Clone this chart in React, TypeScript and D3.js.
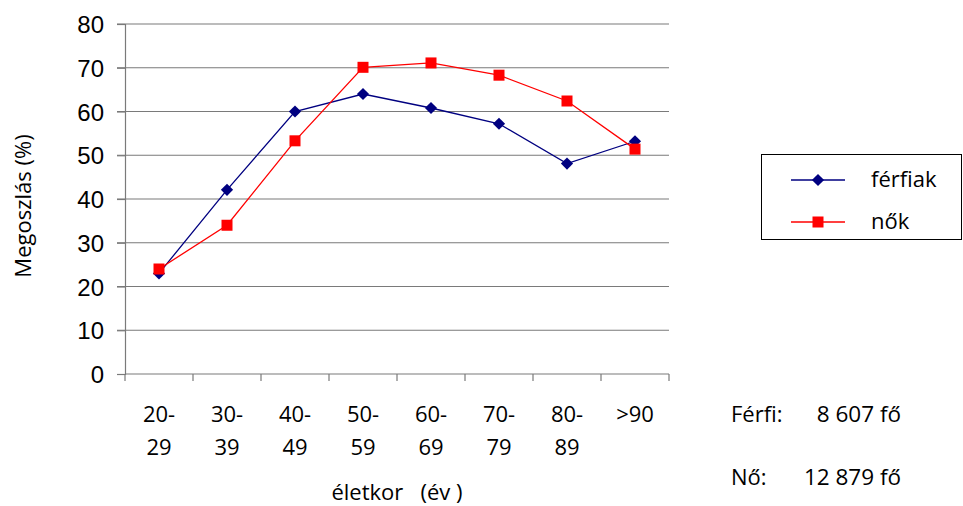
import React, { useEffect, useRef } from 'react';
import * as d3 from 'd3';

const ageGroups = ['20-29', '30-39', '40-49', '50-59', '60-69', '70-79', '80-89', '>90'];
const ferfiak = [23, 42.1, 60, 64, 60.8, 57.2, 48.1, 53.2];
const nok = [24, 34, 53.3, 70.1, 71.1, 68.3, 62.4, 51.4];
const yTicks = [0, 10, 20, 30, 40, 50, 60, 70, 80];
const seriesNames = ['férfiak', 'nők'];
const seriesColors = ['#000080', '#ff0000'];
const notes = [
  { label: 'Férfi:', value: '8 607 fő' },
  { label: 'Nő:', value: '12 879 fő' },
];

const App = () => {
  const ref = useRef<SVGSVGElement>(null);

  useEffect(() => {
    if (!ref.current) return;
    const width = 963;
    const height = 506;
    const marginLeft = 125;
    const marginTop = 24;
    const plotRight = 669;
    const plotBottom = 374;
    const font = "'Liberation Sans', Arial, sans-serif";
    const noteFont = "'Open Sans', 'Noto Sans', sans-serif";

    const svg = d3.select(ref.current);
    svg.selectAll('*').remove();
    svg.attr('width', width).attr('height', height).attr('viewBox', [0, 0, width, height]);

    const x = d3.scaleBand().domain(ageGroups).range([marginLeft, plotRight]);
    const y = d3.scaleLinear().domain([0, 80]).range([plotBottom, marginTop]);

    // gridlines
    svg.append('g')
      .selectAll('line')
      .data(yTicks.filter(t => t > 0))
      .join('line')
      .attr('x1', marginLeft - 8)
      .attr('x2', plotRight)
      .attr('y1', d => y(d))
      .attr('y2', d => y(d))
      .attr('stroke', '#7a7a7a')
      .attr('stroke-width', 1.2);

    // y axis
    const yAxis = svg.append('g')
      .attr('transform', `translate(${marginLeft},0)`)
      .call(d3.axisLeft(y).tickValues(yTicks).tickSize(8).tickPadding(13));
    yAxis.selectAll('.domain, .tick line').attr('stroke', '#7a7a7a').attr('stroke-width', 1.2);
    yAxis.selectAll('.tick text')
      .attr('font-family', font)
      .attr('font-size', 24)
      .attr('dy', '0.36em')
      .attr('fill', '#000');

    // x axis
    const xTickPos = ageGroups.map(g => x(g)!).concat([plotRight]);
    svg.append('line')
      .attr('x1', marginLeft).attr('x2', plotRight)
      .attr('y1', plotBottom).attr('y2', plotBottom)
      .attr('stroke', '#7a7a7a').attr('stroke-width', 1.2);
    svg.append('g')
      .selectAll('line')
      .data(xTickPos)
      .join('line')
      .attr('x1', d => d).attr('x2', d => d)
      .attr('y1', plotBottom).attr('y2', plotBottom + 7)
      .attr('stroke', '#7a7a7a').attr('stroke-width', 1.2);

    const xLabels = svg.append('g')
      .selectAll('text')
      .data(ageGroups)
      .join('text')
      .attr('x', d => x(d)! + x.bandwidth() / 2)
      .attr('y', 422)
      .attr('text-anchor', 'middle')
      .attr('font-family', noteFont)
      .attr('font-size', 22)
      .attr('fill', '#000');
    xLabels.each(function (d) {
      const t = d3.select(this);
      const parts = d.includes('-') ? [d.split('-')[0] + '-', d.split('-')[1]] : [d];
      parts.forEach((p, i) => {
        t.append('tspan')
          .attr('x', x(d)! + x.bandwidth() / 2)
          .attr('dy', i === 0 ? 0 : 33)
          .text(p);
      });
    });

    // axis titles
    svg.append('text')
      .attr('x', 397).attr('y', 500)
      .attr('text-anchor', 'middle')
      .attr('font-family', noteFont)
      .attr('font-size', 22)
      .attr('xml:space', 'preserve')
      .text('életkor   (év )');
    svg.append('text')
      .attr('transform', `translate(31,206) rotate(-90)`)
      .attr('text-anchor', 'middle')
      .attr('font-family', noteFont)
      .attr('font-size', 22)
      .text('Megoszlás (%)');

    // series
    const seriesData = [ferfiak, nok];
    const cx = (i: number) => x(ageGroups[i])! + x.bandwidth() / 2;
    const line = d3.line<number>().x((_, i) => cx(i)).y(d => y(d));
    const diamond = d3.symbol().type(d3.symbolDiamond2).size(95);

    seriesData.forEach((vals, s) => {
      svg.append('path')
        .attr('d', line(vals))
        .attr('fill', 'none')
        .attr('stroke', seriesColors[s])
        .attr('stroke-width', 1.3);
    });
    seriesData.forEach((vals, s) => {
      const g = svg.append('g');
      if (s === 0) {
        g.selectAll('path')
          .data(vals)
          .join('path')
          .attr('transform', (d, i) => `translate(${cx(i)},${y(d)})`)
          .attr('d', diamond())
          .attr('fill', seriesColors[s]);
      } else {
        g.selectAll('rect')
          .data(vals)
          .join('rect')
          .attr('x', (_, i) => cx(i) - 5.5)
          .attr('y', d => y(d) - 5.5)
          .attr('width', 11)
          .attr('height', 11)
          .attr('fill', seriesColors[s]);
      }
    });

    // legend
    const legend = svg.append('g');
    legend.append('rect')
      .attr('x', 761.5).attr('y', 154.5)
      .attr('width', 200).attr('height', 85)
      .attr('fill', '#fff')
      .attr('stroke', '#000')
      .attr('stroke-width', 1);
    seriesNames.forEach((name, s) => {
      const ly = 180 + s * 42;
      legend.append('line')
        .attr('x1', 791).attr('x2', 845)
        .attr('y1', ly).attr('y2', ly)
        .attr('stroke', seriesColors[s])
        .attr('stroke-width', 1.3);
      if (s === 0) {
        legend.append('path')
          .attr('transform', `translate(818,${ly})`)
          .attr('d', diamond())
          .attr('fill', seriesColors[s]);
      } else {
        legend.append('rect')
          .attr('x', 812.5).attr('y', ly - 5.5)
          .attr('width', 11).attr('height', 11)
          .attr('fill', seriesColors[s]);
      }
      legend.append('text')
        .attr('x', 871).attr('y', ly + 7)
        .attr('font-family', noteFont)
        .attr('font-size', 22)
        .text(name);
    });

    // notes
    notes.forEach((n, i) => {
      const ny = 422 + i * 63;
      svg.append('text')
        .attr('x', 731).attr('y', ny)
        .attr('font-family', noteFont)
        .attr('font-size', 22)
        .text(n.label);
      svg.append('text')
        .attr('x', 901).attr('y', ny)
        .attr('text-anchor', 'end')
        .attr('font-family', noteFont)
        .attr('font-size', 22.5)
        .text(n.value);
    });
  }, []);

  return <svg ref={ref} style={{ position: 'absolute', left: 0, top: 0 }} />;
};

export default App;
